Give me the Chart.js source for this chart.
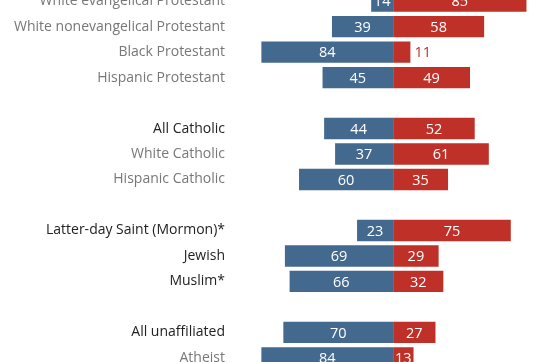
<html lang="en">
<head>
  <meta charset="utf-8">
  <script src="https://cdn.jsdelivr.net/npm/chart.js"></script>
  <style>
    body { margin: 0; background: #fff; }
    .frame { position: relative; width: 550px; height: 362px; overflow: hidden; }
    .frame .holder { position: absolute; left: 0; top: -25px; width: 550px; height: 409px; }
  </style>
</head>
<body>
  <div class="frame">
    <div class="holder">
      <canvas id="graphiqueVote"></canvas>
    </div>
  </div>

  <script>
    // groups (blank entries are the gaps between blocks)
    const categories = [
      'White evangelical Protestant', 'White nonevangelical Protestant', 'Black Protestant', 'Hispanic Protestant',
      '',
      'All Catholic', 'White Catholic', 'Hispanic Catholic',
      '',
      'Latter-day Saint (Mormon)*', 'Jewish', 'Muslim*',
      '',
      'All unaffiliated', 'Atheist'
    ];
    // which labels are printed dark (the rest are gray subgroups)
    const mainGroups = ['All Catholic', 'Latter-day Saint (Mormon)*', 'Jewish', 'Muslim*', 'All unaffiliated'];

    const demValues = [14, 39, 84, 45, null, 44, 37, 60, null, 23, 69, 66, null, 70, 84];
    const repValues = [85, 58, 11, 49, null, 52, 61, 35, null, 75, 29, 32, null, 27, 13];

    const blue = '#44698f';
    const red = '#bf3128';
    const police = '"Open Sans", "Liberation Sans", Arial, sans-serif';

    // write the numbers on the bars
    const valueLabels = {
      id: 'valueLabels',
      afterDatasetsDraw(chart) {
        const ctx = chart.ctx;
        ctx.save();
        ctx.font = '14.5px ' + police;
        ctx.textBaseline = 'middle';
        chart.data.datasets.forEach((ds, i) => {
          const meta = chart.getDatasetMeta(i);
          meta.data.forEach((bar, j) => {
            const v = ds.data[j];
            if (v === null) return;
            const n = Math.abs(v);
            const w = Math.abs(bar.x - bar.base);
            if (w < 19) {
              ctx.fillStyle = ds.backgroundColor;
              ctx.textAlign = v < 0 ? 'right' : 'left';
              ctx.fillText(n, v < 0 ? bar.x - 4 : bar.x + 4, bar.y + 1);
            } else {
              ctx.fillStyle = '#fff';
              ctx.textAlign = 'center';
              ctx.fillText(n, (bar.x + bar.base) / 2, bar.y + 1);
            }
          });
        });
        ctx.restore();
      }
    };

    new Chart(document.getElementById('graphiqueVote'), {
      type: 'bar',
      data: {
        labels: categories,
        datasets: [{
          label: 'Dem',
          data: demValues.map(v => v === null ? null : -v),
          backgroundColor: blue,
          barPercentage: 0.84,
          categoryPercentage: 1
        }, {
          label: 'Rep',
          data: repValues,
          backgroundColor: red,
          barPercentage: 0.84,
          categoryPercentage: 1
        }]
      },
      options: {
        indexAxis: 'y',
        responsive: true,
        maintainAspectRatio: false,
        animation: false,
        layout: { padding: 0 },
        plugins: {
          legend: { display: false },
          tooltip: { enabled: false }
        },
        scales: {
          x: {
            stacked: true,
            min: -104,
            max: 100,
            z: 1,
            border: { display: false },
            ticks: { display: false, stepSize: 104 },
            grid: {
              drawTicks: false,
              color: c => c.tick && c.tick.value === 0 ? '#555' : 'transparent',
              lineWidth: 1
            },
            afterFit(scale) { scale.height = 0; }
          },
          y: {
            stacked: true,
            border: { display: false },
            grid: { display: false, drawTicks: false },
            ticks: {
              padding: 5,
              font: { family: police, size: 14 },
              color: c => mainGroups.includes(categories[c.index]) ? '#222' : '#777'
            },
            afterFit(scale) { scale.width = 230; }
          }
        }
      },
      plugins: [valueLabels]
    });
  </script>
</body>
</html>
